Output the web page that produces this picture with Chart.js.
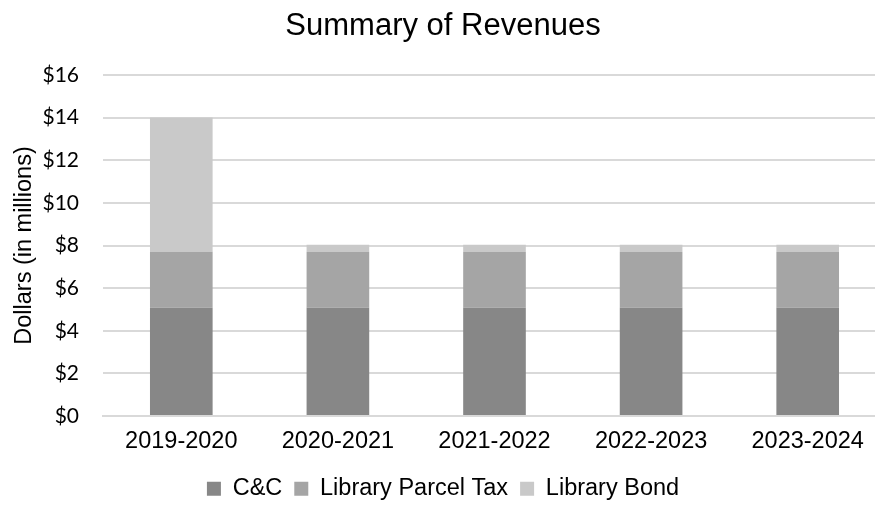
<!DOCTYPE html>
<html>
<head>
<meta charset="utf-8">
<script src="https://cdn.jsdelivr.net/npm/chart.js@4"></script>
<style>
  html, body { margin: 0; padding: 0; background: #fff; overflow: hidden; }
  #wrap { width: 886px; height: 506px; }
</style>
</head>
<body>
<div id="wrap"><canvas id="revenueChart" width="886" height="506"></canvas></div>
<script>
// values (millions of dollars)
const categories = ['2019-2020', '2020-2021', '2021-2022', '2022-2023', '2023-2024'];
const ccValues = [5.08, 5.08, 5.08, 5.08, 5.08];
const parcelTaxValues = [2.63, 2.63, 2.63, 2.63, 2.63];
const bondValues = [6.3, 0.32, 0.32, 0.32, 0.32];
const yTicks = [0, 2, 4, 6, 8, 10, 12, 14, 16];

const ctx = document.getElementById('revenueChart').getContext('2d');

const revenueChart = new Chart(ctx, {
  type: 'bar',
  data: {
    labels: categories,
    datasets: [{
      label: 'C&C',
      data: ccValues,
      backgroundColor: '#878787'
    }, {
      label: 'Library Parcel Tax',
      data: parcelTaxValues,
      backgroundColor: '#a5a5a5'
    }, {
      label: 'Library Bond',
      data: bondValues,
      backgroundColor: '#c9c9c9'
    }]
  },
  options: {
    responsive: false,
    animation: false,
    layout: { padding: 0 },
    datasets: {
      bar: { categoryPercentage: 1, barPercentage: 0.4 }
    },
    scales: {
      x: {
        stacked: true,
        grid: { display: false, drawTicks: false },
        border: { display: true, color: '#d9d9d9', width: 2 },
        ticks: {
          color: '#000',
          padding: 11,
          maxRotation: 0,
          font: { family: 'Arial, "Liberation Sans", sans-serif', size: 23.5 }
        },
        afterFit: scale => { scale.height = 49; }
      },
      y: {
        stacked: true,
        min: yTicks[0],
        max: yTicks[yTicks.length - 1],
        afterBuildTicks: scale => { scale.ticks = yTicks.map(v => ({ value: v })); },
        grid: { color: '#d9d9d9', lineWidth: 2, drawTicks: false },
        border: { display: false },
        ticks: {
          color: '#000',
          padding: 24,
          font: { family: 'Lato, sans-serif', size: 21 },
          callback: value => '$' + value
        },
        title: {
          display: true,
          text: 'Dollars (in millions)',
          color: '#000',
          padding: { top: 10, bottom: 0 },
          font: { family: 'Arial, "Liberation Sans", sans-serif', size: 23.5, weight: 'normal' }
        },
        afterFit: scale => { scale.width = 103; }
      }
    },
    plugins: {
      title: {
        display: true,
        text: 'Summary of Revenues',
        color: '#000',
        padding: { top: 8, bottom: 29.8 },
        font: { family: 'Arial, "Liberation Sans", sans-serif', size: 31, weight: 'normal' }
      },
      legend: {
        position: 'bottom',
        maxHeight: 41,
        labels: {
          color: '#000',
          boxWidth: 14,
          boxHeight: 14,
          padding: 12,
          font: { family: 'Arial, "Liberation Sans", sans-serif', size: 23.5 }
        }
      },
      tooltip: { enabled: false }
    }
  }
});
</script>
</body>
</html>
